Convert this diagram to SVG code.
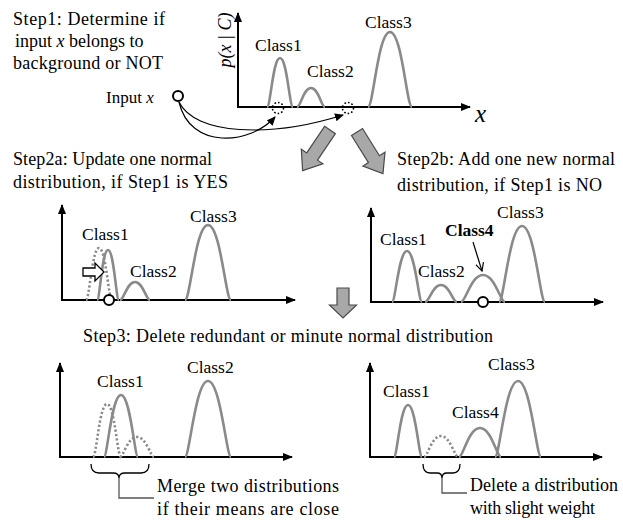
<svg xmlns="http://www.w3.org/2000/svg" width="623" height="520" viewBox="0 0 623 520" style="font-family:'Liberation Serif',serif">
<style>
text{font-family:'Liberation Serif',serif;fill:#000}
.t{font-size:18px}
.c{font-size:17.5px}
.axis{fill:none;stroke:#000;stroke-width:2;marker-start:url(#ax);marker-end:url(#ax)}
.g{fill:none;stroke:#8a8a8a;stroke-width:2.6;stroke-linejoin:round}
.gd{fill:none;stroke:#8a8a8a;stroke-width:2.6;stroke-dasharray:2.2 2.2}
.pt{fill:#fff;stroke:#000;stroke-width:2}
.dc{fill:none;stroke:#000;stroke-width:1.6;stroke-dasharray:1.6 2}
.conn{fill:none;stroke:#000;stroke-width:1.2;marker-end:url(#ah)}
.blk{fill:#a8a8a8;stroke:#4a4a4a;stroke-width:1.2;stroke-linejoin:miter}
.br{fill:none;stroke:#000;stroke-width:1.3}
.ld{fill:none;stroke:#555;stroke-width:1.3}
</style>
<defs>
<marker id="ax" markerWidth="10" markerHeight="10" refX="9" refY="5" orient="auto-start-reverse" markerUnits="userSpaceOnUse"><path d="M0,1 L10,5 L0,9 Z" fill="#000"/></marker>
<marker id="ah" markerWidth="9" markerHeight="8" refX="8" refY="4" orient="auto" markerUnits="userSpaceOnUse"><path d="M0,0 L9,4 L0,8 Z" fill="#000"/></marker>
<marker id="oa" markerWidth="10" markerHeight="10" refX="8" refY="5" orient="auto" markerUnits="userSpaceOnUse"><path d="M0,1 L8,5 L0,9" fill="none" stroke="#000" stroke-width="1.2"/></marker>
<path id="diag" d="M-6.5,0 L6.5,0 L6.5,32 L13,32 L0,49 L-13,32 L-6.5,32 Z"/>
</defs>

<g id="step1-text">
<text class="t" x="13" y="25" textLength="152" lengthAdjust="spacing">Step1: Determine if</text>
<text class="t" x="15" y="47">input <tspan font-style="italic">x</tspan> belongs to</text>
<text class="t" x="13" y="69" textLength="150" lengthAdjust="spacing">background or NOT</text>
</g>

<g id="input">
<text class="t" x="106" y="103" style="font-size:17px">Input <tspan font-style="italic">x</tspan></text>
<circle class="pt" cx="178" cy="96" r="5"/>
</g>

<g id="chart-top">
<path class="axis" d="M238,13 L238,107 L470,107"/>
<text x="0" y="0" font-size="18" font-style="italic" text-anchor="middle" transform="translate(231,40) rotate(-90)">p(x | C)</text>
<text x="475" y="122" font-size="25" font-style="italic">x</text>
<path class="g" d="M267,107 C270.6,107 272.9,58 280,58 S289.4,107 293,107"/>
<path class="g" d="M297,107 C300.8,107 303.3,88 311,88 S321.2,107 325,107"/>
<path class="g" d="M368,107 C373.4,107 377.9,32 390,32 S406.6,107 412,107"/>
<text class="c" x="255" y="51">Class1</text>
<text class="c" x="307" y="77">Class2</text>
<text class="c" x="365" y="28">Class3</text>
<circle class="dc" cx="278" cy="108" r="5.5"/>
<circle class="dc" cx="348" cy="108" r="5.5"/>
</g>

<g id="connectors">
<path class="conn" d="M179,102 C190,150 250,145 275,117"/>
<path class="conn" d="M179,102 C195,135 270,138 343,115"/>
<use href="#diag" class="blk" transform="translate(330,130) rotate(34)"/>
<use href="#diag" class="blk" transform="translate(357,132) rotate(-32)"/>
<path class="blk" d="M337,288 L349,288 L349,305 L356.5,305 L343,318 L329.5,305 L337,305 Z"/>
</g>

<g id="step2a-text">
<text class="t" x="13" y="165" textLength="199" lengthAdjust="spacing">Step2a: Update one normal</text>
<text class="t" x="13" y="188" textLength="215" lengthAdjust="spacing">distribution, if  Step1 is YES</text>
</g>

<g id="step2b-text">
<text class="t" x="397" y="165" textLength="218" lengthAdjust="spacing">Step2b: Add one new normal</text>
<text class="t" x="397" y="191" textLength="205" lengthAdjust="spacing">distribution, if Step1 is NO</text>
</g>

<g id="chart-2a">
<path class="axis" d="M62,205 L62,300 L295,300"/>
<path class="gd" d="M86,300 C89.6,300 91.9,248 99,248 S108.4,300 112,300"/>
<path class="g" d="M97,300 C100,300 102,250 108,250 S116,300 119,300"/>
<path class="g" d="M120,300 C124,300 126.8,282 135,282 S146,300 150,300"/>
<path class="g" d="M185,300 C190.4,300 195.4,225 208,225 S225.6,300 231,300"/>
<path d="M83,268 L95,268 L95,263 L104,272 L95,281 L95,276 L83,276 Z" fill="#fff" stroke="#000" stroke-width="1.3"/>
<circle class="pt" cx="109" cy="300" r="5"/>
<text class="c" x="82" y="240">Class1</text>
<text class="c" x="130" y="277">Class2</text>
<text class="c" x="190" y="222">Class3</text>
</g>

<g id="chart-2b">
<path class="axis" d="M371,208 L371,302 L603,302"/>
<path class="g" d="M392,302 C395.5,302 398.8,251 407,251 S418.5,302 422,302"/>
<path class="g" d="M425,302 C429.5,302 432.2,285 441,285 S452.5,302 457,302"/>
<path class="g" d="M461,302 C465.6,302 470.9,275 483,275 S500.4,302 505,302"/>
<path class="g" d="M499,302 C504,302 509.3,226 522,226 S540,302 545,302"/>
<circle class="pt" cx="483" cy="302" r="5"/>
<path d="M473,242 L482,271" fill="none" stroke="#000" stroke-width="1.2" marker-end="url(#oa)"/>
<text class="c" x="380" y="245">Class1</text>
<text class="c" x="418" y="277">Class2</text>
<text class="c" x="445" y="236" font-weight="bold">Class4</text>
<text class="c" x="497" y="218">Class3</text>
</g>

<g id="step3-text">
<text class="t" x="83" y="342" textLength="410" lengthAdjust="spacing">Step3: Delete redundant or minute normal distribution</text>
</g>

<g id="chart-3a">
<path class="axis" d="M60,363 L60,457 L292,457" stroke-width="2.8"/>
<path class="gd" d="M93,457 C96.6,457 99.3,404 107,404 S117.4,457 121,457"/>
<path class="gd" d="M120,457 C123.4,457 127.6,437 137,437 S150.6,457 154,457"/>
<path class="g" d="M104,457 C107.4,457 111.6,395 121,395 S134.6,457 138,457"/>
<path class="g" d="M185,457 C189.6,457 195.4,381 208,381 S226.4,457 231,457"/>
<text class="c" x="97" y="387">Class1</text>
<text class="c" x="187" y="373">Class2</text>
<path class="br" d="M91,464 Q91,473 99,473 L113,473 Q119,473 119,478 Q119,473 125,473 L141,473 Q149,473 149,464"/>
<path class="ld" d="M119,478 L119,498 L154,498"/>
<text class="t" x="157" y="492" textLength="182" lengthAdjust="spacing">Merge two distributions</text>
<text class="t" x="157" y="515" textLength="182" lengthAdjust="spacing">if  their means are close</text>
</g>

<g id="chart-3b">
<path class="axis" d="M370,363 L370,457 L602,457" stroke-width="2.8"/>
<path class="g" d="M394,457 C397.2,457 400.3,405 408,405 S418.8,457 422,457"/>
<path class="gd" d="M424,457 C427.4,457 431.6,436 441,436 S454.6,457 458,457"/>
<path class="g" d="M459,457 C463.2,457 468.5,428 480,428 S496.8,457 501,457"/>
<path class="g" d="M495,457 C499.6,457 505.4,381 518,381 S536.4,457 541,457"/>
<text class="c" x="383" y="397">Class1</text>
<text class="c" x="452" y="418">Class4</text>
<text class="c" x="488" y="370">Class3</text>
<path class="br" d="M423,464 Q423,473 430,473 L437,473 Q442,473 442,478 Q442,473 447,473 L453,473 Q460,473 460,464"/>
<path class="ld" d="M442,478 L442,493 L467,493"/>
<text class="t" x="470" y="491" textLength="148" lengthAdjust="spacing">Delete a distribution</text>
<text class="t" x="470" y="514" textLength="125" lengthAdjust="spacing">with slight weight</text>
</g>
</svg>
